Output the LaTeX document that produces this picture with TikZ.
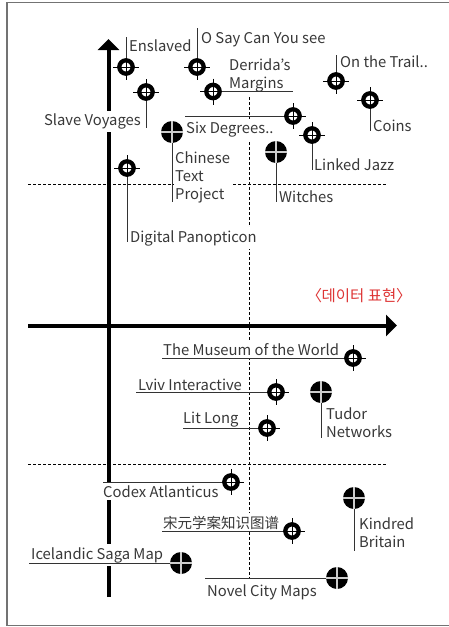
\documentclass[tikz,border=0pt]{standalone}
\usepackage{fontspec}
\setmainfont{Noto Sans CJK KR}
\newfontfamily\zhfont{Noto Sans CJK SC}
\newfontfamily\kofont[RawFeature=+palt]{Noto Sans CJK KR}
\usetikzlibrary{arrows.meta}
\definecolor{redlabel}{RGB}{222,52,52}

\begin{document}
\begin{tikzpicture}[x=1pt, y=-1pt,
        ringpt/.style={circle, draw=black, line width=4.3pt, fill=white, inner sep=0pt, minimum size=13.4pt},
        diskpt/.style={circle, fill=black, inner sep=0pt, minimum size=22pt,
            path picture={\draw[white!80!black, line width=1.1pt]
                (path picture bounding box.north) -- (path picture bounding box.south)
                (path picture bounding box.west) -- (path picture bounding box.east);}},
        lbl/.style={fill=white, inner xsep=1pt, inner ysep=3pt, text=black!78, align=left,
            font=\fontsize{14.8}{18}\selectfont},
        leader/.style={draw=black!80, line width=0.9pt},
        axis/.style={line width=4pt, -{Triangle[length=11pt, width=21pt]}},
        guide/.style={densely dashed, line width=0.7pt}]
        \useasboundingbox (0,0) rectangle (448,627);
        \draw[black!55, line width=1.3pt] (7,2.3) rectangle (452,625.5);

        \draw[guide] (28,184) -- (387,184);
        \draw[guide] (28,464) -- (387,464);
        \draw[guide] (249,92) -- (249,578);
        \draw[axis] (108.5,597) -- (108.5,39);
        \draw[axis] (28,325.5) -- (397,325.5);

        % labels
        \node[lbl, anchor=base west] (enslaved-l) at (128,51.5) {Enslaved};
        \node[lbl, anchor=base west] (osay-l) at (200,43.5) {O Say Can You see};
        \node[lbl, anchor=base east] (slave-l) at (142,125.5) {Slave Voyages};
        \node[lbl, anchor=north west] (derrida-l) at (228,56) {Derrida’s\\Margins};
        \node[lbl, anchor=base west] (trail-l) at (339,67) {On the Trail..};
        \node[lbl, anchor=base west] (coins-l) at (372,131) {Coins};
        \node[lbl, anchor=base west] (six-l) at (185,133.5) {Six Degrees..};
        \node[lbl, anchor=base west] (jazz-l) at (313,170) {Linked Jazz};
        \node[lbl, anchor=north west] (ctext-l) at (174,149) {Chinese\\Text\\Project};
        \node[lbl, anchor=base west] (witches-l) at (278,202) {Witches};
        \node[lbl, anchor=base west] (panop-l) at (129,242) {Digital Panopticon};
        \node[lbl, anchor=center, text=redlabel, font=\fontsize{15.5}{18}\selectfont] (repr-l) at (359,296) {\kofont 〈데이터 표현〉};
        \node[lbl, anchor=base west] (museum-l) at (162,355.5) {The Museum of the World};
        \node[lbl, anchor=base west] (lviv-l) at (137,390) {Lviv Interactive};
        \node[lbl, anchor=north west] (tudor-l) at (325,405) {Tudor\\Networks};
        \node[lbl, anchor=base west] (litlong-l) at (182,423) {Lit Long};
        \node[lbl, anchor=base west] (codex-l) at (102,497) {Codex Atlanticus};
        \node[lbl, anchor=north west] (kindred-l) at (358,515) {Kindred\\Britain};
        \node[lbl, anchor=base west, font=\fontsize{14.5}{18}\selectfont] (song-l) at (162,528) {\zhfont 宋元学案知识图谱};
        \node[lbl, anchor=base west] (saga-l) at (30,559) {Icelandic Saga Map};
        \node[lbl, anchor=base west] (novel-l) at (206,596) {Novel City Maps};

        % markers
        \node[ringpt] (enslaved) at (126,67) {};
        \node[ringpt] (osay) at (197,67) {};
        \node[ringpt] (slave) at (146,92) {};
        \node[ringpt] (derrida) at (213,91.5) {};
        \node[ringpt] (trail) at (336,81) {};
        \node[ringpt] (coins) at (370,100) {};
        \node[ringpt] (six) at (293,116) {};
        \node[ringpt] (jazz) at (312,135) {};
        \node[diskpt] (ctext) at (172,132) {};
        \node[diskpt] (witches) at (276,152) {};
        \node[ringpt] (panop) at (127,168) {};
        \node[ringpt] (museum) at (353,358) {};
        \node[ringpt] (lviv) at (276,392) {};
        \node[diskpt] (tudor) at (321,392) {};
        \node[ringpt] (litlong) at (267,428) {};
        \node[ringpt] (codex) at (231,482) {};
        \node[diskpt] (kindred) at (354,498) {};
        \node[ringpt] (song) at (292,531) {};
        \node[diskpt] (saga) at (181,563) {};
        \node[diskpt] (novel) at (337,578) {};

        \foreach \p in {enslaved,osay,slave,derrida,trail,coins,six,jazz,panop,museum,lviv,litlong,codex,song}
            \draw[line width=0.8pt] (\p.center) +(-13,0) -- +(13,0) +(0,-13) -- +(0,13);

        % leader ends
        \coordinate (enslaved-e) at (126,37);
        \coordinate (osay-e) at (197,28);
        \coordinate (slave-e) at (146,128);
        \coordinate (derrida-e) at (293,91.5);
        \coordinate (trail-e) at (336,55);
        \coordinate (coins-e) at (370,131);
        \coordinate (six-e) at (185,116);
        \coordinate (jazz-e) at (312,170);
        \coordinate (ctext-e) at (172,202);
        \coordinate (witches-e) at (276,202);
        \coordinate (panop-e) at (127,242);
        \coordinate (museum-e) at (162,358);
        \coordinate (lviv-e) at (136,392);
        \coordinate (tudor-e) at (321,438);
        \coordinate (litlong-e) at (183,428);
        \coordinate (codex-e) at (103,482);
        \coordinate (kindred-e) at (354,551);
        \coordinate (song-e) at (162,531);
        \coordinate (saga-e) at (29,563);
        \coordinate (novel-e) at (205,578);

        \foreach \p in {enslaved,osay,slave,derrida,trail,coins,six,jazz,ctext,witches,panop,museum,lviv,tudor,litlong,codex,kindred,song,saga,novel}
            \draw[leader] (\p) -- (\p-e);
    \end{tikzpicture}
\end{document}
